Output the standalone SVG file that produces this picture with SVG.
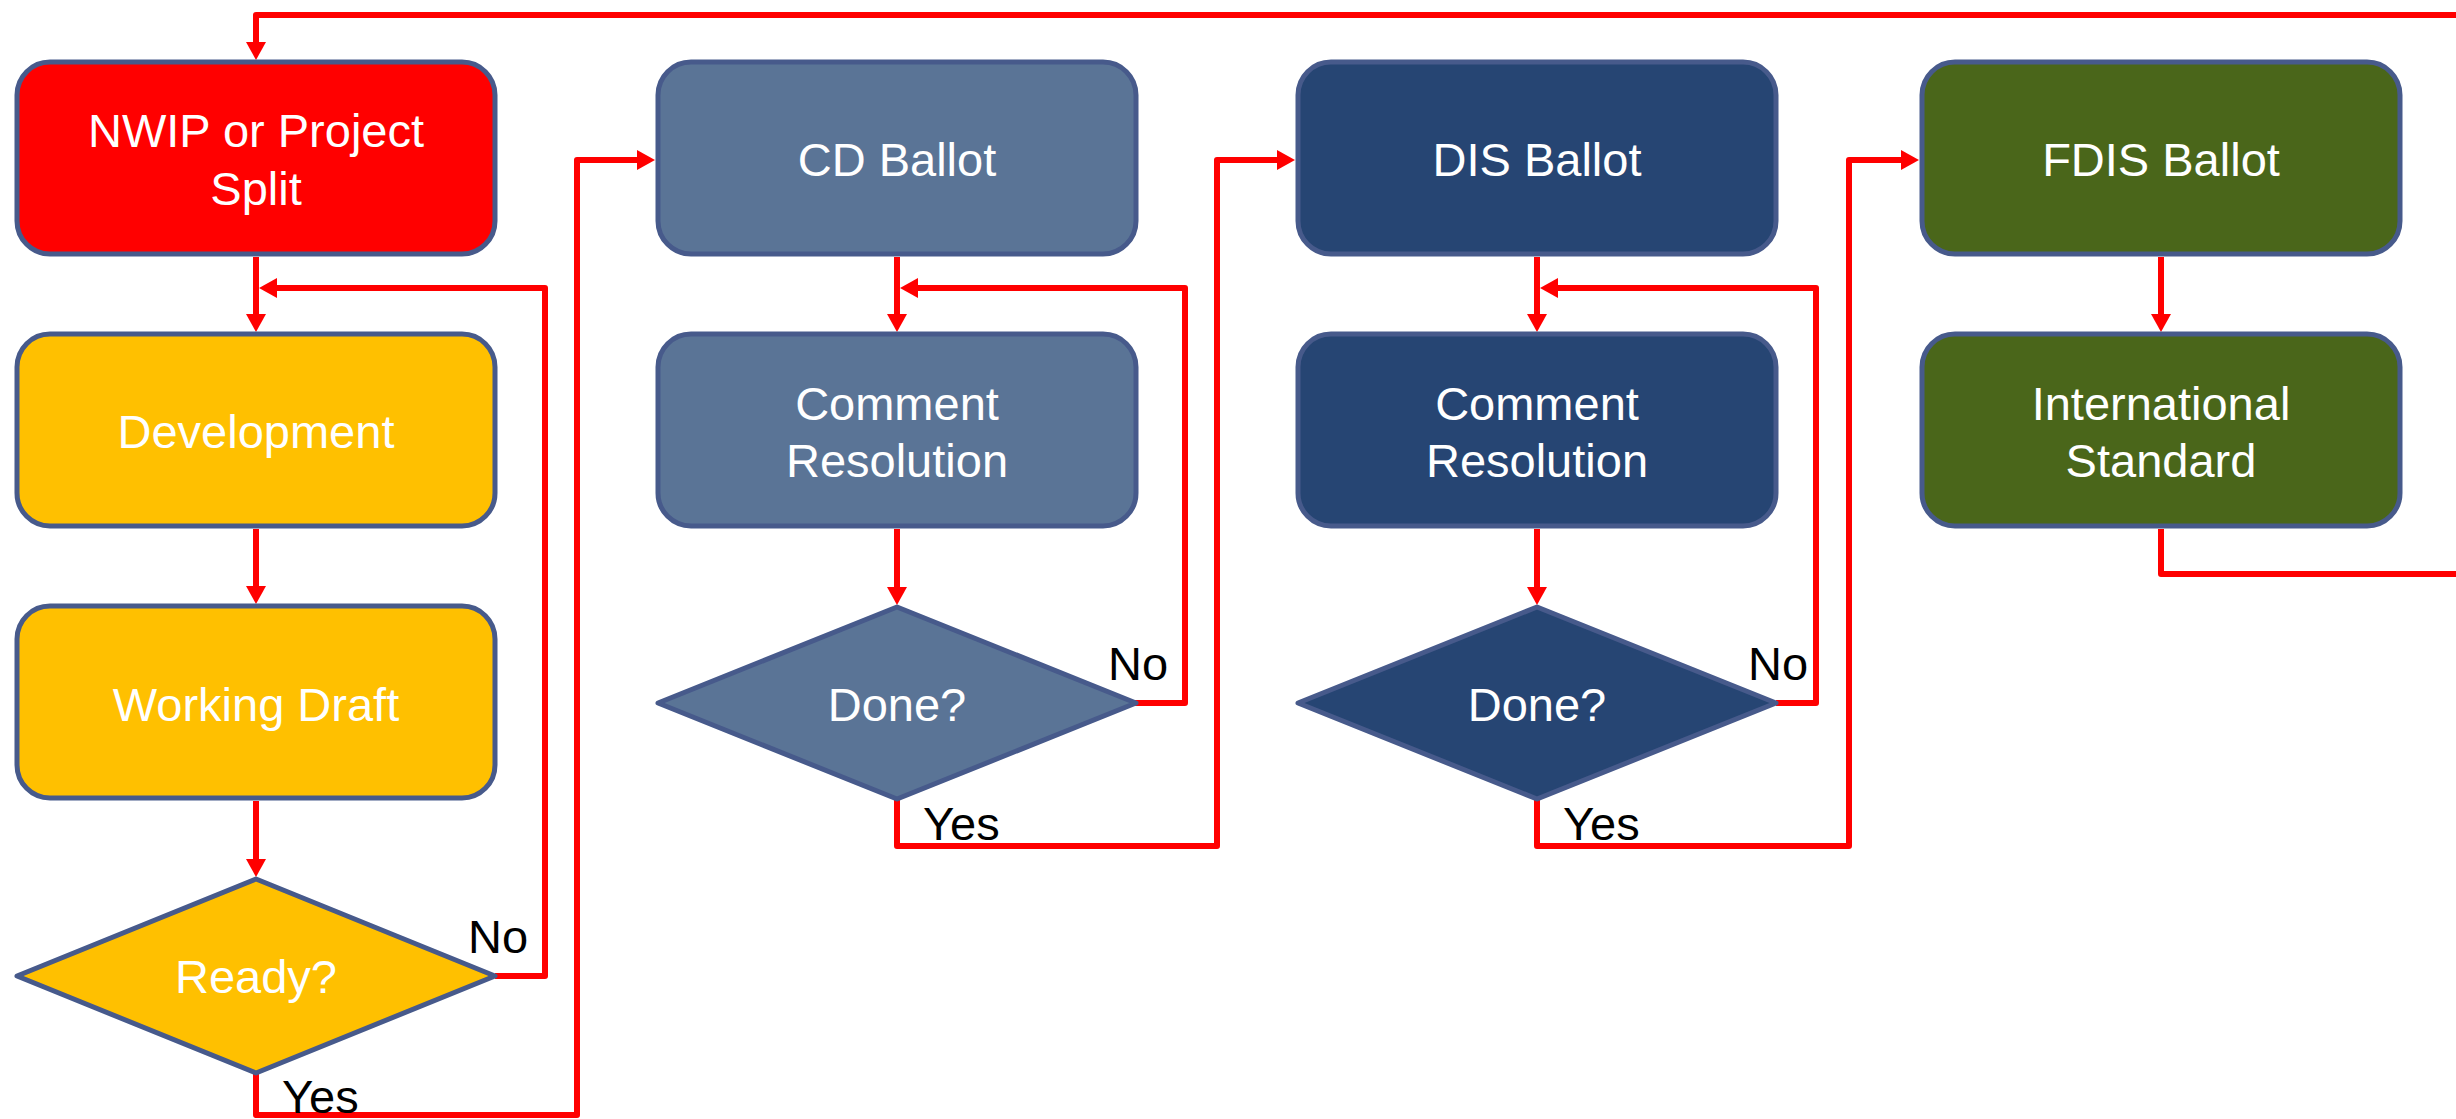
<svg xmlns="http://www.w3.org/2000/svg" width="2456" height="1119" viewBox="0 0 2456 1119">
<style>
.box{stroke:#475A8B;stroke-width:5;stroke-linejoin:round}
.nwip{fill:#FF0000}
.yel{fill:#FFC000}
.cd{fill:#5A7496}
.dis{fill:#264573}
.fdis{fill:#4A661A}
.t{font-family:"Liberation Sans",Arial,sans-serif;font-size:47px;fill:#FFFFFF;text-anchor:middle}
.lbl{font-family:"Liberation Sans",Arial,sans-serif;font-size:47px;fill:#000000}
.c{fill:none;stroke:#FF0000;stroke-width:6;stroke-linejoin:round;marker-end:url(#ah)}
.cn{fill:none;stroke:#FF0000;stroke-width:6;stroke-linejoin:round}
</style>
<defs>
<marker id="ah" markerUnits="userSpaceOnUse" markerWidth="18" markerHeight="20" refX="6" refY="10" orient="auto" overflow="visible">
<path d="M0,0 L18,10 L0,20 z" fill="#FF0000"/>
</marker>
</defs>
<rect x="0" y="0" width="2456" height="1119" fill="#FFFFFF"/>
<g id="connectors">
<path class="c" d="M2456 15 H256 V48"/>
<path class="c" d="M256 257 V320"/>
<path class="c" d="M256 529 V592"/>
<path class="c" d="M256 801 V865"/>
<path class="c" d="M495 976 H545 V288 H271"/>
<path class="c" d="M256 1073 V1115 H577 V160 H643"/>
<path class="c" d="M897 257 V320"/>
<path class="c" d="M897 529 V593"/>
<path class="c" d="M1135 703 H1185 V288 H912"/>
<path class="c" d="M897 799 V846 H1217 V160 H1283"/>
<path class="c" d="M1537 257 V320"/>
<path class="c" d="M1537 529 V593"/>
<path class="c" d="M1776 703 H1816 V288 H1552"/>
<path class="c" d="M1537 799 V846 H1849 V160 H1907"/>
<path class="c" d="M2161 257 V320"/>
<path class="cn" d="M2161 529 V574 H2456"/>
</g>
<g id="nwip">
<rect class="box nwip" x="17" y="62" width="478" height="192" rx="33" ry="33"/>
<text class="t" x="256" y="147">NWIP or Project</text>
<text class="t" x="256" y="205">Split</text>
</g>
<g id="development">
<rect class="box yel" x="17" y="334" width="478" height="192" rx="33" ry="33"/>
<text class="t" x="256" y="448">Development</text>
</g>
<g id="working-draft">
<rect class="box yel" x="17" y="606" width="478" height="192" rx="33" ry="33"/>
<text class="t" x="256" y="721">Working Draft</text>
</g>
<g id="ready">
<polygon class="box yel" points="17,976 256,879 495,976 256,1073"/>
<text class="t" x="256" y="993">Ready?</text>
</g>
<g id="cd-ballot">
<rect class="box cd" x="658" y="62" width="478" height="192" rx="33" ry="33"/>
<text class="t" x="897" y="176">CD Ballot</text>
</g>
<g id="cd-comment">
<rect class="box cd" x="658" y="334" width="478" height="192" rx="33" ry="33"/>
<text class="t" x="897" y="420">Comment</text>
<text class="t" x="897" y="477">Resolution</text>
</g>
<g id="cd-done">
<polygon class="box cd" points="658,703 897,607 1136,703 897,799"/>
<text class="t" x="897" y="721">Done?</text>
</g>
<g id="dis-ballot">
<rect class="box dis" x="1298" y="62" width="478" height="192" rx="33" ry="33"/>
<text class="t" x="1537" y="176">DIS Ballot</text>
</g>
<g id="dis-comment">
<rect class="box dis" x="1298" y="334" width="478" height="192" rx="33" ry="33"/>
<text class="t" x="1537" y="420">Comment</text>
<text class="t" x="1537" y="477">Resolution</text>
</g>
<g id="dis-done">
<polygon class="box dis" points="1298,703 1537,607 1776,703 1537,799"/>
<text class="t" x="1537" y="721">Done?</text>
</g>
<g id="fdis-ballot">
<rect class="box fdis" x="1922" y="62" width="478" height="192" rx="33" ry="33"/>
<text class="t" x="2161" y="176">FDIS Ballot</text>
</g>
<g id="international-standard">
<rect class="box fdis" x="1922" y="334" width="478" height="192" rx="33" ry="33"/>
<text class="t" x="2161" y="420">International</text>
<text class="t" x="2161" y="477">Standard</text>
</g>
<g id="labels">
<text class="lbl" x="468" y="953">No</text>
<text class="lbl" x="282" y="1113">Yes</text>
<text class="lbl" x="1108" y="680">No</text>
<text class="lbl" x="923" y="840">Yes</text>
<text class="lbl" x="1748" y="680">No</text>
<text class="lbl" x="1563" y="840">Yes</text>
</g>
</svg>
